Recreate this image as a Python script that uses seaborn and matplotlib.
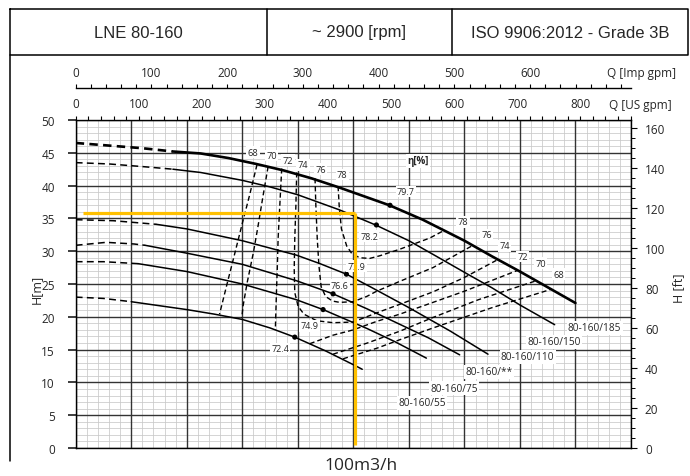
import matplotlib
matplotlib.use("Agg")
import numpy as np
import matplotlib.pyplot as plt
import seaborn as sns
from matplotlib.ticker import MultipleLocator, FixedLocator

# pump curves, Q [m3/h] vs H [m]; *_dash = dashed left part of each curve
q185_dash = [0, 12, 24, 35]
h185_dash = [46.5, 46.1, 45.7, 45.2]
q185 = [35, 45, 55, 65, 75, 85, 95, 105, 113, 125, 140, 150, 160, 170, 180]
h185 = [45.2, 44.9, 44.2, 43.3, 42.3, 41.1, 39.7, 38.2, 37.0, 34.8, 31.6, 29.2, 26.9, 24.5, 22.1]

q150_dash = [0, 12, 24, 35]
h150_dash = [43.5, 43.3, 42.9, 42.5]
q150 = [35, 45, 60, 70, 80, 95, 108, 120, 130, 142, 150, 160, 172.5]
h150 = [42.5, 42.0, 40.8, 39.8, 38.6, 36.3, 34.0, 31.6, 29.2, 26.3, 24.4, 21.8, 18.8]

q110_dash = [0, 13.5, 29]
h110_dash = [34.8, 34.65, 34.1]
q110 = [29, 40, 60, 79.5, 88, 97.5, 106, 120, 135, 148.5]
h110 = [34.1, 33.4, 31.6, 29.4, 28.1, 26.5, 24.6, 21.4, 17.8, 14.3]

qss_dash = [0, 11, 21, 25]
hss_dash = [30.9, 31.35, 31.1, 30.9]
qss = [25, 40, 60, 79.5, 92.7, 105, 115, 127, 138.3]
hss = [30.9, 29.7, 28.0, 25.5, 23.5, 21.2, 19.2, 16.8, 14.2]

q75_dash = [0, 10, 22.5]
h75_dash = [28.4, 28.4, 28.1]
q75 = [22.5, 40, 60, 79.5, 89.1, 105, 115, 126.3]
h75 = [28.1, 26.9, 25.0, 22.6, 21.1, 18.2, 16.2, 13.7]

q55_dash = [0, 10, 20]
h55_dash = [23.0, 22.8, 22.3]
q55 = [20, 40, 50, 60, 70, 78.9, 90, 100, 103.2]
h55 = [22.3, 21.1, 20.4, 19.6, 18.3, 16.9, 14.8, 12.7, 12.0]

curve_names = ["80-160/185", "80-160/150", "80-160/110", "80-160/**", "80-160/75", "80-160/55"]

# best efficiency points
bep_q = [113.2, 108.3, 97.5, 92.7, 89.1, 78.9]
bep_h = [37.0, 34.0, 26.5, 23.5, 21.1, 16.9]
bep_eta = ["79.7", "78.2", "77.9", "76.6", "74.9", "72.4"]

# iso-efficiency lines
e68_q = [65.3, 62.6, 59.8, 57.2, 54.8, 51.8]
e68_h = [43.2, 38.5, 33.9, 29.5, 25.5, 20.4]
e70_q = [69.3, 67.5, 65.7, 64.0, 61.8, 60.3, 59.8]
e70_h = [42.9, 38.5, 33.9, 29.8, 25.3, 21.7, 19.8]
e72_q = [74.2, 73.5, 72.9, 72.6, 72.3, 71.9]
e72_h = [42.6, 36.9, 31.9, 27.3, 23.7, 18.0]
e74_q = [79.6, 79.3, 78.9, 78.7, 78.9, 80.1, 82.2, 86.8, 92.7, 99.9, 108.4, 116.7, 128.7, 140, 151.5]
e74_h = [42.0, 36.9, 31.9, 27.3, 23.7, 21.6, 20.4, 19.4, 19.1, 19.2, 20.6, 21.9, 23.8, 26.0, 28.6]
e76_q = [86.2, 86.5, 87.0, 87.6, 88.4, 90.0, 92.5, 95.1, 99.9, 104.8, 108.4, 116.7, 128.7, 143.1]
e76_h = [41.1, 36.9, 31.9, 27.8, 24.6, 23.1, 22.4, 22.2, 22.3, 23.1, 23.9, 25.4, 27.5, 30.9]
e78_q = [94.5, 94.9, 95.7, 97.6, 99.5, 102.3, 105.9, 109.5, 116.7, 127.5, 132.4]
e78_h = [39.9, 36.9, 33.4, 30.8, 29.6, 29.0, 28.9, 29.3, 30.3, 32.0, 33.1]
e72r_q = [84.3, 92.7, 99.9, 108.4, 116.7, 128.7, 140, 159.3]
e72r_h = [15.9, 17.2, 18.0, 19.3, 20.4, 22.2, 23.9, 27.1]
e70r_q = [92.7, 105, 116.7, 128.7, 145, 165.9]
e70r_h = [14.3, 16.0, 17.8, 19.9, 22.6, 25.5]
e68r_q = [96.3, 108.4, 116.7, 128.7, 150, 171.3]
e68r_h = [13.6, 15.2, 16.5, 18.3, 21.4, 24.2]

eta_levels = ["68", "70", "72", "74", "76", "78"]

# duty point
duty_q = 100.5
duty_h = 35.8

header_cells = ["LNE 80-160", "~ 2900 [rpm]", "ISO 9906:2012 - Grade 3B"]
imp_labels = [0, 100, 200, 300, 400, 500, 600]
us_labels = [0, 100, 200, 300, 400, 500, 600, 700, 800]

M3H_TO_USGPM = 4.4029
M3H_TO_IMPGPM = 3.6662
M_TO_FT = 3.2808

sns.set_theme(style="white", rc={"axes.edgecolor": "black", "axes.linewidth": 1.0})
plt.rcParams["font.family"] = ["Open Sans", "DejaVu Sans"]

W, HP = 690, 477
fig = plt.figure(figsize=(6.9, 4.77), dpi=100)

# frame / header in pixel coordinates
frame = fig.add_axes([0, 0, 1, 1])
frame.set_xlim(0, W)
frame.set_ylim(HP, 0)
frame.axis("off")
frame.plot([10, 688, 688, 10, 10], [10, 10, 56, 56, 10], color="black", lw=1.1)
frame.plot([267, 267], [10, 56], color="black", lw=1.1)
frame.plot([452, 452], [10, 56], color="black", lw=1.1)
frame.plot([10, 10], [56, 462], color="black", lw=1.1)
for cx, txt in zip([138.5, 359.5, 570], header_cells):
    frame.text(cx, 33, txt, ha="center", va="center", fontsize=12, family="Liberation Sans")
frame.text(361, 466, "100m3/h", ha="center", va="center", fontsize=12.5)
frame.text(36, 289, "H[m]", ha="center", va="center", rotation=90, fontsize=9)
frame.text(679, 288, "H [ft]", ha="center", va="center", rotation=90, fontsize=9)
frame.text(607, 74, "Q [Imp gpm]", ha="left", va="center", fontsize=8.5)
frame.text(609, 105, "Q [US gpm]", ha="left", va="center", fontsize=8.5)

ax = fig.add_axes([75.7 / W, 1 - 449 / HP, (631 - 75.7) / W, (449 - 121) / HP])
ax.patch.set_alpha(0)

# grid: minor first, major on top
ax.vlines(np.arange(0, 201, 4), 0, 50, color="#c9c9c9", lw=0.55, zorder=0.5)
ax.hlines(np.arange(0, 51, 1), 0, 200, color="#c9c9c9", lw=0.55, zorder=0.5)
ax.vlines(np.arange(0, 201, 20), 0, 50, color="#333333", lw=1.0, zorder=0.6)
ax.hlines(np.arange(0, 51, 5), 0, 200, color="#333333", lw=1.0, zorder=0.6)


def line(q, h, lw, ls):
    sns.lineplot(x=q, y=h, ax=ax, color="black", lw=lw, ls=ls, sort=False,
                 estimator=None, zorder=3)


dash_thick = (0, (3.2, 2.0))
dash_thin = (0, (4.5, 2.8))
dash_eta = (0, (3.6, 2.2))

line(q185_dash, h185_dash, 1.9, dash_thick)
line(q185, h185, 1.9, "-")
for qd, hd, qs, hs in [(q150_dash, h150_dash, q150, h150),
                       (q110_dash, h110_dash, q110, h110),
                       (qss_dash, hss_dash, qss, hss),
                       (q75_dash, h75_dash, q75, h75),
                       (q55_dash, h55_dash, q55, h55)]:
    line(qd, hd, 1.1, dash_thin)
    line(qs, hs, 1.1, "-")

for qe, he in [(e68_q, e68_h), (e70_q, e70_h), (e72_q, e72_h), (e74_q, e74_h),
               (e76_q, e76_h), (e78_q, e78_h), (e72r_q, e72r_h),
               (e70r_q, e70r_h), (e68r_q, e68r_h)]:
    line(qe, he, 1.0, dash_eta)

sns.scatterplot(x=bep_q, y=bep_h, ax=ax, color="black", s=14, edgecolor="none", zorder=4)

box = dict(facecolor="white", edgecolor="none", pad=1.0)

bep_pos = [(118.9, 39.1), (105.7, 32.3), (101.1, 27.7), (95.1, 24.8), (84.3, 18.6), (73.6, 15.1)]
for (tx, ty), t in zip(bep_pos, bep_eta):
    ax.text(tx, ty, t, fontsize=6.5, ha="center", va="center", bbox=box, zorder=4)

eta_left_pos = [(63.9, 45.1), (70.6, 44.6), (76.5, 43.9), (81.9, 43.2), (88.2, 42.5), (96.0, 41.7)]
eta_right_pos = [(173.9, 26.5), (167.4, 28.2), (160.9, 29.2), (154.5, 30.8), (147.9, 32.5), (139.5, 34.5)]
for (tx, ty), t in zip(eta_left_pos, eta_levels):
    ax.text(tx, ty, t, fontsize=6.7, ha="center", va="center", bbox=box, zorder=4)
for (tx, ty), t in zip(eta_right_pos, eta_levels):
    ax.text(tx, ty, t, fontsize=6.7, ha="center", va="center", bbox=box, zorder=4)
ax.text(123.3, 43.8, "η[%]", fontsize=7, fontweight="bold", ha="center", va="center",
        bbox=box, zorder=4)

name_pos = [(186.9, 18.3), (172.2, 16.2), (162.8, 13.9), (148.8, 11.6), (136.2, 9.1), (124.7, 6.9)]
for (tx, ty), t in zip(name_pos, curve_names):
    ax.text(tx, ty, t, fontsize=7.3, ha="center", va="center", bbox=box, zorder=4)

# duty point lines
ax.plot([2.6, duty_q], [duty_h, duty_h], color="#FFC000", lw=2.3, zorder=6,
        solid_capstyle="butt")
ax.plot([duty_q, duty_q], [duty_h, 0.5], color="#FFC000", lw=2.3, zorder=6,
        solid_capstyle="butt")

ax.set_xlim(0, 200)
ax.set_ylim(0, 50)
ax.grid(False)
ax.yaxis.set_major_locator(MultipleLocator(5))
ax.tick_params(axis="x", which="both", bottom=False, top=False, labelbottom=False)
ax.tick_params(axis="y", which="both", left=False, right=False, labelsize=8.5, pad=9)
ax.set_xlabel("")
ax.set_ylabel("")
for s in ax.spines.values():
    s.set_color("black")
    s.set_linewidth(1.0)
    s.set_zorder(5)

# right axis in ft
ax2 = ax.twinx()
ax2.set_ylim(0, 50 * M_TO_FT)
ax2.yaxis.set_major_locator(MultipleLocator(20))
ax2.yaxis.set_minor_locator(MultipleLocator(5))
ax2.tick_params(axis="y", which="major", left=False, right=True, direction="out", length=4,
                width=0.8, labelsize=8.5, pad=6, color="black")
ax2.tick_params(axis="y", which="minor", left=False, right=True, direction="out", length=3,
                width=0.7, color="black")
ax2.tick_params(axis="x", which="both", bottom=False, top=False, labelbottom=False)
ax2.grid(False)
for s in ax2.spines.values():
    s.set_visible(False)

# US gpm on the top spine
us = ax.secondary_xaxis("top", functions=(lambda q: q * M3H_TO_USGPM,
                                          lambda g: g / M3H_TO_USGPM))
us.xaxis.set_major_locator(FixedLocator(us_labels))
us.xaxis.set_minor_locator(FixedLocator(np.arange(0, 881, 20)))
us.tick_params(which="both", direction="out", length=3, width=0.8, color="black",
               labelsize=8.5, pad=4)
us.spines["top"].set_visible(False)

# Imp gpm on a separate line above
imp = ax.secondary_xaxis(1 + 31.5 / 328, functions=(lambda q: q * M3H_TO_IMPGPM,
                                                   lambda g: g / M3H_TO_IMPGPM))
imp.xaxis.set_major_locator(FixedLocator(imp_labels))
imp.xaxis.set_minor_locator(FixedLocator(np.arange(0, 733, 20)))
imp.tick_params(which="both", direction="out", length=3, width=0.8, color="black",
                labelsize=8.5, pad=4)
imp.spines["top"].set_color("black")
imp.spines["top"].set_linewidth(1.0)

fig.savefig("out.png", dpi=100)
